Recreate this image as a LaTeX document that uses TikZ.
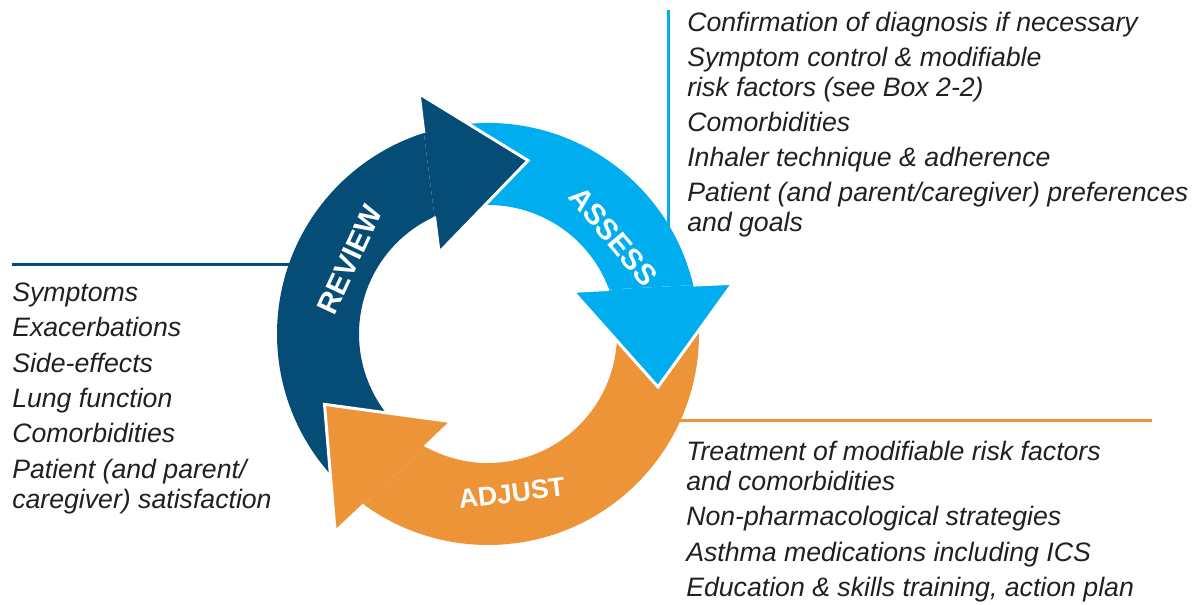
\documentclass[tikz,border=0pt]{standalone}
\usepackage{fontspec}
\setmainfont{Liberation Sans}
\definecolor{reviewblue}{RGB}{5,76,119}
\definecolor{assesscyan}{RGB}{0,174,239}
\definecolor{adjustorange}{RGB}{237,148,57}
\definecolor{listtext}{RGB}{35,31,32}

% ring segment from tail angle #1 to head angle #2
\newcommand{\cyclebody}[3]{%
  \fill[#3] ({#1}:211) arc[start angle={#1},end angle={#2+1.7},radius=211]
    -- ({#2+8.5}:129) arc[start angle={#2+8.5},end angle={#1},radius=129] -- cycle;}
% arrow head at head angle #1, open at its base
\newcommand{\cyclehead}[2]{%
  \filldraw[fill=#2,headedge] ({#1+1.7}:211) -- ({#1}:250) -- ({#1-29}:178)
    -- ({#1+15}:95) -- ({#1+8.5}:129);}

\begin{document}
\begin{tikzpicture}[x=0.75pt,y=0.75pt,yscale=-1,xscale=1,
  listitem/.style={anchor=base west,inner sep=0pt,text=listtext,
    font=\fontsize{20}{24}\selectfont\itshape},
  steplabel/.style={text=white,inner sep=0pt,font=\fontsize{22}{26}\selectfont\bfseries},
  leader/.style={line width=2.25pt},
  headedge/.style={draw=white,line width=2.25pt,line join=miter}]
\useasboundingbox (0,0) rectangle (1195,605);

%Straight Lines [leaders]
\coordinate (revL) at (12,265);
\coordinate (revR) at (300,265);
\draw[leader,reviewblue] (revL) -- (revR);
\coordinate (assT) at (668,10);
\coordinate (assB) at (668,240);
\draw[leader,assesscyan] (assT) -- (assB);
\coordinate (adjL) at (670,421);
\coordinate (adjR) at (1152,421);
\draw[leader,adjustorange] (adjL) -- (adjR);

\begin{scope}[shift={(488,334)},yscale=-1]
  %Shape: ring bodies
  \cyclebody{226.3}{106}{reviewblue}
  \cyclebody{100}{11.7}{assesscyan}
  \cyclebody{5.7}{-127.7}{adjustorange}
  %Shape: arrow heads
  \cyclehead{106}{reviewblue}
  \cyclehead{11.7}{assesscyan}
  \cyclehead{-127.7}{adjustorange}
  % Text Node
  \node[steplabel,rotate=65] (review) at (151.8:157) {REVIEW};
  \node[steplabel,rotate=-50] (assess) at (37.8:159) {ASSESS};
  \node[steplabel,rotate=7,font=\fontsize{20}{24}\selectfont\bfseries] (adjust) at (-81.5:161) {ADJUST};
\end{scope}

% Text Node
\node[listitem] (rev1) at (12,301.5) {Symptoms};
\node[listitem] (rev2) at (12,336.8) {Exacerbations};
\node[listitem] (rev3) at (12,372.1) {Side-effects};
\node[listitem] (rev4) at (12,407.4) {Lung function};
\node[listitem] (rev5) at (12,442.7) {Comorbidities};
\node[listitem] (rev6) at (12,478) {Patient (and parent/};
\node[listitem] (rev6b) at (12,508) {caregiver) satisfaction};
% Text Node
\node[listitem] (ass1) at (687,31.7) {Confirmation of diagnosis if necessary};
\node[listitem] (ass2) at (687,66.7) {Symptom control \& modifiable};
\node[listitem] (ass2b) at (687,96.7) {risk factors (see Box 2-2)};
\node[listitem] (ass3) at (687,131.7) {Comorbidities};
\node[listitem] (ass4) at (687,166.7) {Inhaler technique \& adherence};
\node[listitem] (ass5) at (687,201.7) {Patient (and parent/caregiver) preferences};
\node[listitem] (ass5b) at (687,231.7) {and goals};
% Text Node
\node[listitem] (adj1) at (686,460) {Treatment of modifiable risk factors};
\node[listitem] (adj1b) at (686,490) {and comorbidities};
\node[listitem] (adj2) at (686,525.5) {Non-pharmacological strategies};
\node[listitem] (adj3) at (686,561) {Asthma medications including ICS};
\node[listitem] (adj4) at (686,596.5) {Education \& skills training, action plan};
\end{tikzpicture}
\end{document}
